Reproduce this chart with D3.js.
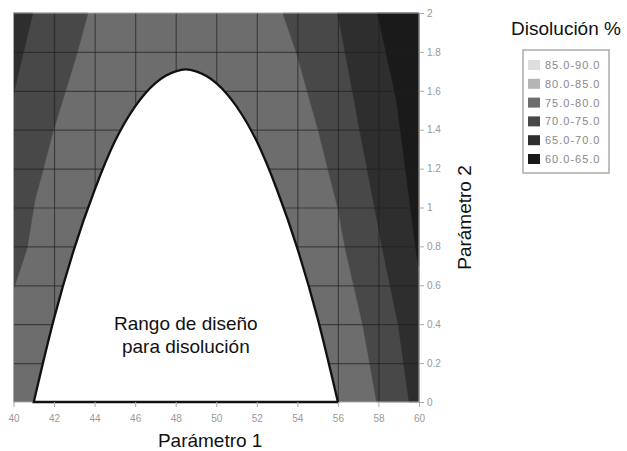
<!DOCTYPE html>
<html>
<head>
<meta charset="utf-8">
<script src="https://cdn.jsdelivr.net/npm/d3@7"></script>
<style>
  body { margin: 0; background: #fff; }
  svg { display: block; font-family: "Liberation Sans", Arial, Helvetica, sans-serif; }
</style>
</head>
<body>
<script>
//Tick values for both axes
var xTicks = [40, 42, 44, 46, 48, 50, 52, 54, 56, 58, 60];
var yTicks = [0, 0.2, 0.4, 0.6, 0.8, 1, 1.2, 1.4, 1.6, 1.8, 2];

//Legend (dissolution bands)
var legendLabels = ["85.0-90.0", "80.0-85.0", "75.0-80.0", "70.0-75.0", "65.0-70.0", "60.0-65.0"];
var legendColors = ["#dedede", "#b5b5b5", "#6d6d6d", "#484848", "#2e2e2e", "#1a1a1a"];

//Design space boundary (Parametro 1, Parametro 2)
var designRange = [[41, 0], [42, 0.43], [43, 0.79], [44, 1.09], [45, 1.34], [46, 1.52], [47, 1.64],
                   [48, 1.70], [48.5, 1.71], [49, 1.70], [50, 1.64], [51, 1.52], [52, 1.34],
                   [53, 1.09], [54, 0.79], [55, 0.43], [56, 0]];

//Contour boundaries between bands
var left7075 = [[43.67, 2], [43.13, 1.79], [42.54, 1.59], [41.95, 1.39], [41.45, 1.19],
                [41.06, 1.04], [40.67, 0.79], [40, 0.58]];
var left6570 = [[40.96, 2], [40.47, 1.79], [40, 1.58]];
var right7075 = [[53.28, 2], [53.97, 1.79], [54.51, 1.59], [55.05, 1.39], [55.5, 1.2],
                 [55.99, 1.0], [56.38, 0.78], [57.22, 0.4], [57.91, 0]];
var right6570 = [[55.99, 2], [57.09, 1.39], [58.23, 0.77], [58.97, 0.4], [59.51, 0]];
var right6065 = [[57.95, 2], [58.89, 1.55], [59.88, 0.76], [60, 0.7]];

//Set margins and define dimensions
var margin = {top: 13, right: 208, bottom: 49, left: 13.5};
var width = 627 - margin.left - margin.right;
var height = 451 - margin.top - margin.bottom;

var svg = d3.select('body')
    .append('svg')
    .attr('width', 627)
    .attr('height', 451)
  .append('g')
    .attr('transform', 'translate(' + margin.left + ',' + margin.top + ')');

var xscale = d3.scaleLinear().domain([40, 60]).range([0, width]);
var yscale = d3.scaleLinear().domain([0, 2]).range([height, 0]);

var line = d3.line()
    .x(function(d) { return xscale(d[0]); })
    .y(function(d) { return yscale(d[1]); })
    .curve(d3.curveLinearClosed);

//Base band 75-80 covers the whole plot
svg.append('rect')
    .attr('width', width)
    .attr('height', height)
    .attr('fill', legendColors[2]);

//Darker bands as closed polygons
var x0 = xscale.domain()[0], x1 = xscale.domain()[1];
var y0 = yscale.domain()[0], y1 = yscale.domain()[1];
var bands = [
  {pts: left7075.concat([[x0, y1]]), color: legendColors[3]},
  {pts: left6570.concat([[x0, y1]]), color: legendColors[4]},
  {pts: right7075.concat([[x1, y0], [x1, y1]]), color: legendColors[3]},
  {pts: right6570.concat([[x1, y0], [x1, y1]]), color: legendColors[4]},
  {pts: right6065.concat([[x1, y1]]), color: legendColors[5]}
];

svg.selectAll('.band')
    .data(bands).enter()
    .append('path')
    .attr('class', 'band')
    .attr('d', function(d) { return line(d.pts); })
    .attr('fill', function(d) { return d.color; })
    .attr('stroke', function(d) { return d.color; })
    .attr('stroke-width', 0.5);

//Grid lines
svg.append('g')
    .attr('class', 'grid-x')
    .attr('transform', 'translate(0,' + height + ')')
    .call(d3.axisBottom(xscale).tickValues(xTicks.slice(1, -1)).tickSize(-height).tickFormat(''))
    .call(function(g) { g.select('.domain').remove(); })
    .selectAll('line')
    .attr('stroke', '#1e1e1e')
    .attr('stroke-opacity', 0.6)
    .attr('stroke-width', 1.2);

svg.append('g')
    .attr('class', 'grid-y')
    .call(d3.axisLeft(yscale).tickValues(yTicks.slice(1, -1)).tickSize(-width).tickFormat(''))
    .call(function(g) { g.select('.domain').remove(); })
    .selectAll('line')
    .attr('stroke', '#1e1e1e')
    .attr('stroke-opacity', 0.6)
    .attr('stroke-width', 1.2);

//Plot frame
svg.append('rect')
    .attr('width', width)
    .attr('height', height)
    .attr('fill', 'none')
    .attr('stroke', '#aaa')
    .attr('stroke-width', 1);

//Design space (white region with black outline)
var area = d3.area()
    .x(function(d) { return xscale(d[0]); })
    .y0(yscale(0))
    .y1(function(d) { return yscale(d[1]); })
    .curve(d3.curveMonotoneX);

svg.append('path')
    .datum(designRange)
    .attr('d', area)
    .attr('fill', '#fff')
    .attr('stroke', '#111')
    .attr('stroke-width', 2.3);

//X axis
var xAxis = svg.append('g')
    .attr('class', 'x-axis')
    .attr('transform', 'translate(0,' + height + ')')
    .call(d3.axisBottom(xscale).tickValues(xTicks).tickSize(5).tickPadding(8));
xAxis.select('.domain').remove();
xAxis.selectAll('line').attr('stroke', '#aaa');
xAxis.selectAll('text')
    .attr('fill', '#999')
    .style('font-size', '10px');

//Y axis on the right
var yAxis = svg.append('g')
    .attr('class', 'y-axis')
    .attr('transform', 'translate(' + width + ',0)')
    .call(d3.axisRight(yscale).tickValues(yTicks).tickSize(5).tickPadding(3).tickFormat(d3.format('~g')));
yAxis.select('.domain').remove();
yAxis.selectAll('line').attr('stroke', '#aaa');
yAxis.selectAll('text')
    .attr('fill', '#999')
    .style('font-size', '10px');

//Label inside the design space
svg.append('text')
    .attr('x', xscale(48.5))
    .attr('y', yscale(0.37))
    .attr('text-anchor', 'middle')
    .style('font-size', '19px')
    .attr('fill', '#111')
    .text('Rango de diseño');
svg.append('text')
    .attr('x', xscale(48.5))
    .attr('y', yscale(0.37) + 23)
    .attr('text-anchor', 'middle')
    .style('font-size', '19px')
    .attr('fill', '#111')
    .text('para disolución');

//Axis titles
svg.append('text')
    .attr('x', xscale(49.7))
    .attr('y', height + 45)
    .attr('text-anchor', 'middle')
    .style('font-size', '19px')
    .attr('fill', '#111')
    .text('Parámetro 1');

svg.append('text')
    .attr('transform', 'translate(' + (width + 52) + ',' + (height / 2 + 10) + ') rotate(-90)')
    .attr('text-anchor', 'middle')
    .style('font-size', '19px')
    .attr('fill', '#111')
    .text('Parámetro 2');

//Legend
var legend = d3.select('svg').append('g')
    .attr('transform', 'translate(523,0)');

legend.append('text')
    .attr('x', 43)
    .attr('y', 35)
    .attr('text-anchor', 'middle')
    .style('font-size', '19px')
    .attr('fill', '#111')
    .text('Disolución %');

legend.append('rect')
    .attr('x', 0)
    .attr('y', 50)
    .attr('width', 86)
    .attr('height', 123)
    .attr('fill', '#fff')
    .attr('stroke', '#aaa')
    .attr('stroke-width', 1.5);

var rows = legend.selectAll('.row')
    .data(legendLabels).enter()
    .append('g')
    .attr('class', 'row')
    .attr('transform', function(d, i) { return 'translate(5,' + (65 + i * 18.8) + ')'; });

rows.append('rect')
    .attr('x', 0)
    .attr('y', -5)
    .attr('width', 12)
    .attr('height', 10)
    .attr('fill', function(d, i) { return legendColors[i]; });

rows.append('text')
    .attr('x', 17)
    .attr('y', 4)
    .style('font-size', '11px')
    .style('letter-spacing', '1px')
    .attr('fill', '#888')
    .text(function(d) { return d; });
</script>
</body>
</html>
